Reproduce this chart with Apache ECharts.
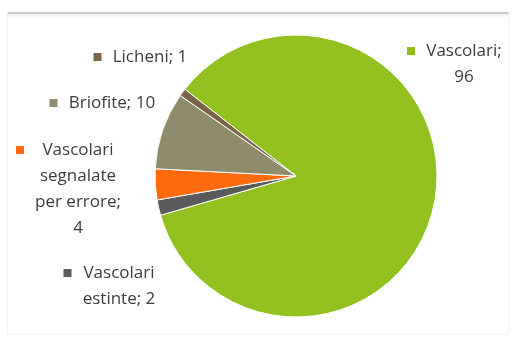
<!DOCTYPE html>
<html>
<head>
<meta charset="utf-8">
<script src="https://cdn.jsdelivr.net/npm/echarts@6/dist/echarts.min.js"></script>
<style>
  html, body { margin: 0; padding: 0; background: #fff; }
  #frame {
    position: absolute; left: 7px; top: 12px; width: 500px; height: 320px;
    border-top: 2px solid #c9c9c9;
    border-left: 1px solid #f1f1f1; border-right: 1px solid #f1f1f1; border-bottom: 1px solid #f1f1f1;
    background: linear-gradient(#f3f3f3 0px, #fff 6px);
  }
  #chart { position: absolute; left: 0; top: 0; width: 515px; height: 344px; }
</style>
</head>
<body>
<div id="frame"></div>
<div id="chart"></div>
<script>
// Flora counts by group
const categories = ['Vascolari', 'Vascolari estinte', 'Vascolari segnalate per errore', 'Briofite', 'Licheni'];
const values = [96, 2, 4, 10, 1];
const colors = ['#92C01F', '#5A5A5A', '#FF6A0D', '#8E8C6C', '#7A6448'];

// Label layout: wrap width and centre of each text block
const wrapWidths = [92, 102, 97, 220, 220];
const labelCenters = [[464, 64], [119, 286], [78, 189], [112, 103], [150, 57]];

const FONT_SIZE = 17;
const FONT_FAMILY = 'Open Sans';
const LINE_HEIGHT = 26;
const KEY = 8, GAP = 10;

const ctx = document.createElement('canvas').getContext('2d');
ctx.font = FONT_SIZE + 'px "' + FONT_FAMILY + '"';
const measure = s => ctx.measureText(s).width;

// greedy word wrap, like the spreadsheet data labels
function wrap(text, maxW) {
  const words = text.split(' ');
  const lines = [];
  let cur = '';
  words.forEach(w => {
    const next = cur ? cur + ' ' + w : w;
    if (cur && measure(next) > maxW) { lines.push(cur); cur = w; }
    else cur = next;
  });
  if (cur) lines.push(cur);
  return lines;
}

const data = categories.map((name, i) => {
  const lines = wrap(name + '; ' + values[i], wrapWidths[i]);
  const w = Math.ceil(Math.max(...lines.map(measure))) + 2;
  return {
    name: name,
    value: values[i],
    itemStyle: { color: colors[i] },
    label: {
      formatter: lines.map((l, k) => (k === 0 ? '{k| }{g| }' : '{s| }') + '{t|' + l + '}').join('\n'),
      rich: {
        k: { width: KEY, height: KEY, backgroundColor: colors[i], align: 'left', fontSize: 1 },
        g: { width: GAP, align: 'left', fontSize: 1 },
        s: { width: KEY + GAP, align: 'left', fontSize: 1 },
        t: { width: w, align: 'center', fontSize: FONT_SIZE, fontFamily: FONT_FAMILY,
             lineHeight: LINE_HEIGHT, color: '#3c3c3c' }
      }
    }
  };
});

const chart = echarts.init(document.getElementById('chart'), null, { renderer: 'canvas' });
chart.setOption({
  animation: false,
  series: [{
    type: 'pie',
    center: [296, 176],
    radius: 141,
    startAngle: 142,
    clockwise: true,
    avoidLabelOverlap: false,
    itemStyle: { borderColor: '#ffffff', borderWidth: 1 },
    label: { show: true, position: 'outside' },
    labelLine: { show: false },
    emphasis: { disabled: true },
    labelLayout: function (params) {
      const c = labelCenters[params.dataIndex];
      return { x: c[0] - (KEY + GAP) / 2, y: c[1], align: 'center', verticalAlign: 'middle' };
    },
    data: data
  }]
});
</script>
</body>
</html>
